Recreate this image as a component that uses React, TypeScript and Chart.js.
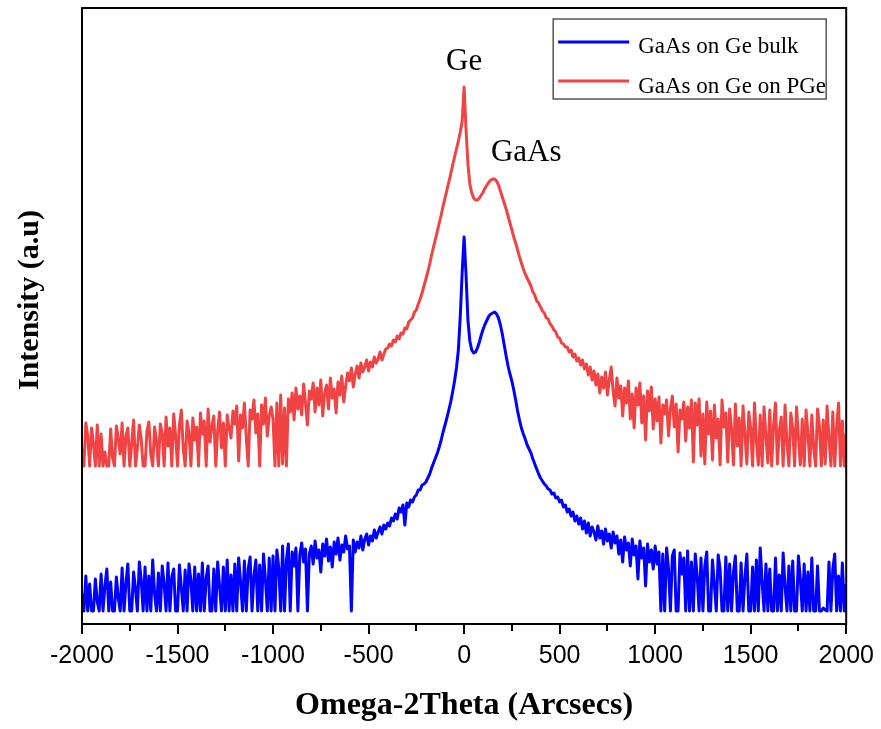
import React, { useEffect, useRef } from 'react';
import { Chart, registerables } from 'chart.js';

Chart.register(...registerables);

// Sampling grid of the scan (arcsec)
const X_START = -2000;
const X_STEP = 10;
const X_MIN = -2000;
const X_MAX = 2000;
const X_TICK_STEP = 500;

const SERIES_LABELS = ['GaAs on Ge bulk', 'GaAs on Ge on PGe'];
const SERIES_COLORS = ['#0000FF', '#F04444'];

const X_TITLE = 'Omega-2Theta (Arcsecs)';
const Y_TITLE = 'Intensity (a.u)';

// Intensity (arbitrary units, offset curves), one value per 10 arcsec from -2000 to 2000
const BULK = [
  30, 13, 48, 13, 40, 13, 13, 45, 22, 13, 50, 13, 38, 55, 13, 42, 13, 13, 47, 26,
  13, 56, 13, 41, 60, 13, 13, 52, 35, 13, 62, 44, 13, 57, 13, 48, 13, 64, 30, 13,
  51, 13, 58, 40, 13, 61, 13, 47, 55, 13, 13, 59, 36, 13, 54, 13, 60, 44, 13, 57,
  13, 50, 13, 61, 13, 46, 58, 13, 13, 55, 13, 62, 38, 13, 57, 13, 64, 13, 49, 13,
  60, 13, 66, 42, 13, 63, 13, 55, 67, 13, 48, 64, 13, 59, 13, 70, 45, 13, 66, 13,
  68, 13, 74, 56, 13, 78, 13, 64, 80, 13, 72, 58, 76, 13, 69, 81, 62, 75, 13, 70,
  78, 60, 83, 66, 74, 52, 80, 68, 85, 63, 77, 57, 82, 70, 86, 64, 79, 72, 88, 75,
  78, 13, 84, 72, 82, 76, 88, 74, 85, 90, 79, 88, 83, 94, 86, 92, 97, 90, 99, 95,
  101, 98, 106, 103, 110, 105, 116, 112, 119, 99, 121, 117, 124, 122, 127, 129, 134, 134, 139, 140,
  142, 146, 150, 156, 161, 166, 171, 177, 184, 192, 199, 206, 214, 222, 232, 243, 256, 274, 308, 352,
  387, 350, 304, 283, 274, 271, 272, 276, 282, 289, 295, 300, 304, 308, 310, 311, 312, 310, 306, 299,
  290, 279, 268, 258, 250, 243, 234, 224, 213, 204, 196, 190, 185, 179, 175, 171, 165, 160, 155, 150,
  146, 143, 140, 138, 135, 134, 130, 131, 126, 127, 122, 124, 117, 119, 112, 115, 108, 112, 103, 108,
  100, 106, 95, 103, 91, 101, 88, 97, 92, 84, 98, 86, 93, 80, 95, 83, 90, 76, 92, 81,
  88, 70, 84, 62, 87, 74, 81, 58, 85, 69, 78, 45, 83, 66, 76, 38, 80, 62, 74, 55,
  78, 60, 72, 13, 70, 13, 76, 55, 13, 68, 74, 13, 13, 71, 50, 66, 13, 73, 13, 62,
  13, 70, 48, 13, 66, 13, 58, 72, 13, 13, 64, 40, 13, 69, 55, 13, 13, 67, 13, 60,
  13, 52, 68, 13, 13, 61, 13, 47, 70, 13, 13, 57, 13, 64, 13, 76, 42, 13, 60, 13,
  55, 13, 13, 66, 13, 49, 13, 71, 38, 13, 58, 13, 63, 13, 13, 68, 45, 13, 60, 13,
  52, 13, 66, 13, 13, 58, 13, 13, 16, 14, 13, 62, 13, 55, 70, 13, 48, 13, 61, 13,
  40,
];

const PGE = [
  175, 158, 201, 188, 158, 196, 180, 158, 199, 158, 190, 158, 172, 158, 158, 195, 166, 158, 198, 185,
  170, 201, 158, 188, 196, 158, 180, 204, 158, 176, 199, 185, 158, 158, 193, 202, 170, 158, 197, 183,
  158, 200, 191, 158, 207, 178, 196, 158, 210, 188, 158, 199, 214, 175, 158, 203, 192, 158, 206, 184,
  197, 158, 211, 190, 203, 158, 215, 182, 198, 208, 158, 193, 212, 176, 201, 158, 209, 196, 186, 213,
  200, 218, 163, 209, 196, 221, 186, 158, 214, 205, 224, 191, 210, 158, 219, 200, 226, 188, 208, 217,
  205, 158, 221, 158, 229, 160, 216, 158, 225, 212, 231, 204, 236, 215, 228, 209, 240, 221, 199, 233,
  225, 241, 212, 236, 219, 244, 208, 231, 239, 215, 246, 226, 235, 211, 242, 229, 248, 222, 238, 251,
  243, 256, 237, 250, 258, 246, 261, 252, 257, 264, 253, 262, 257, 267, 261, 265, 272, 264, 270, 275,
  276, 280, 278, 284, 282, 288, 285, 291, 290, 296, 295, 302, 304, 306, 312, 314, 320, 325, 331, 338,
  345, 352, 360, 369, 377, 385, 393, 401, 409, 418, 426, 434, 442, 450, 459, 467, 475, 483, 492, 503,
  537, 495, 460, 440, 431, 426, 424, 424, 426, 429, 432, 436, 439, 442, 444, 445, 445, 443, 439, 433,
  427, 421, 415, 408, 401, 394, 387, 381, 374, 367, 361, 355, 350, 346, 342, 338, 332, 329, 323, 321,
  317, 313, 311, 306, 305, 300, 298, 294, 292, 287, 286, 281, 280, 277, 277, 272, 274, 267, 270, 263,
  266, 259, 264, 255, 260, 249, 257, 244, 253, 239, 250, 231, 247, 236, 252, 229, 244, 257, 233, 218,
  246, 226, 238, 208, 236, 221, 243, 205, 230, 196, 236, 219, 241, 201, 228, 184, 233, 213, 237, 195,
  225, 203, 227, 181, 219, 210, 224, 188, 215, 228, 197, 220, 172, 214, 205, 222, 183, 217, 196, 224,
  162, 221, 199, 225, 168, 210, 160, 222, 190, 213, 164, 219, 186, 205, 159, 224, 197, 211, 162, 215,
  195, 159, 220, 178, 206, 158, 218, 190, 160, 212, 196, 158, 221, 183, 159, 209, 158, 217, 188, 161,
  214, 158, 199, 221, 160, 193, 207, 158, 219, 181, 158, 211, 196, 158, 217, 187, 159, 205, 158, 214,
  190, 158, 209, 176, 158, 215, 198, 158, 204, 160, 218, 185, 158, 212, 158, 197, 221, 158, 203, 158,
  190,
];

const Y_MIN = 0;
const Y_MAX = 616;

// Peak labels in data coordinates (x arcsec, y intensity at text baseline)
const ANNOTATIONS = [
  { text: 'Ge', x: 0, y: 554 },
  { text: 'GaAs', x: 325, y: 463 },
];

const SERIF = '"Liberation Serif", "Times New Roman", serif';
const SANS = '"Liberation Sans", Arial, sans-serif';

const toPoints = (vals: number[]) => vals.map((v, i) => ({ x: X_START + i * X_STEP, y: v }));

const decorPlugin = {
  id: 'decor',
  afterDraw(chart: any) {
    const { ctx, chartArea: a, scales } = chart;
    const xs = scales.x;
    const ys = scales.y;
    ctx.save();

    // frame
    ctx.strokeStyle = '#000';
    ctx.lineWidth = 2;
    ctx.strokeRect(a.left, a.top, a.right - a.left, a.bottom - a.top);

    // minor ticks between major ticks
    const tv = xs.ticks.map((t: any) => t.value);
    ctx.beginPath();
    for (let i = 0; i < tv.length - 1; i++) {
      const px = Math.round(xs.getPixelForValue((tv[i] + tv[i + 1]) / 2));
      ctx.moveTo(px, a.bottom);
      ctx.lineTo(px, a.bottom + 7);
    }
    ctx.stroke();

    // peak annotations
    ctx.fillStyle = '#000';
    ctx.font = `31px ${SERIF}`;
    ctx.textAlign = 'center';
    ctx.textBaseline = 'alphabetic';
    ANNOTATIONS.forEach((an) => {
      ctx.fillText(an.text, xs.getPixelForValue(an.x), ys.getPixelForValue(an.y));
    });

    // y title
    ctx.save();
    ctx.translate(30, 300);
    ctx.rotate(-Math.PI / 2);
    ctx.font = `bold 30px ${SERIF}`;
    ctx.textAlign = 'center';
    ctx.textBaseline = 'middle';
    ctx.fillText(Y_TITLE, 0, 0);
    ctx.restore();

    // legend box
    const lw = 273;
    const lh = 80;
    const lx = a.right - 20 - lw;
    const ly = a.top + 11;
    ctx.fillStyle = '#fff';
    ctx.fillRect(lx, ly, lw, lh);
    ctx.strokeStyle = '#555';
    ctx.lineWidth = 1.5;
    ctx.strokeRect(lx, ly, lw, lh);
    const rows = [
      { lineY: ly + 23, textY: ly + 34 },
      { lineY: ly + 62, textY: ly + 74 },
    ];
    chart.data.datasets.forEach((ds: any, i: number) => {
      const r = rows[i];
      ctx.strokeStyle = ds.borderColor;
      ctx.lineWidth = 3;
      ctx.beginPath();
      ctx.moveTo(lx + 5, r.lineY);
      ctx.lineTo(lx + 76, r.lineY);
      ctx.stroke();
      ctx.fillStyle = '#000';
      ctx.font = `23px ${SERIF}`;
      ctx.textAlign = 'left';
      ctx.textBaseline = 'alphabetic';
      ctx.fillText(ds.label, lx + 85, r.textY);
    });

    ctx.restore();
  },
};

export default function App() {
  const canvasRef = useRef<HTMLCanvasElement | null>(null);

  useEffect(() => {
    const canvas = canvasRef.current;
    if (!canvas) return;
    const chart = new Chart(canvas, {
      type: 'line',
      data: {
        datasets: [
          {
            label: SERIES_LABELS[0],
            data: toPoints(BULK),
            borderColor: SERIES_COLORS[0],
            backgroundColor: SERIES_COLORS[0],
            borderWidth: 3,
            pointRadius: 0,
            tension: 0,
            borderJoinStyle: 'round',
            fill: false,
          },
          {
            label: SERIES_LABELS[1],
            data: toPoints(PGE),
            borderColor: SERIES_COLORS[1],
            backgroundColor: SERIES_COLORS[1],
            borderWidth: 3,
            pointRadius: 0,
            tension: 0,
            borderJoinStyle: 'round',
            fill: false,
          },
        ],
      },
      options: {
        animation: false,
        responsive: false,
        devicePixelRatio: 1,
        layout: { padding: { left: 82, right: 34, top: 8, bottom: 0 } },
        plugins: {
          legend: { display: false },
          tooltip: { enabled: false },
        },
        scales: {
          x: {
            type: 'linear',
            min: X_MIN,
            max: X_MAX,
            ticks: {
              stepSize: X_TICK_STEP,
              color: '#000',
              font: { family: SANS, size: 25 },
              padding: 7,
              maxRotation: 0,
              autoSkip: false,
              callback: (v: any) => String(v),
            },
            grid: {
              drawOnChartArea: false,
              drawTicks: true,
              tickLength: 10,
              color: '#000',
              lineWidth: 2,
            },
            border: { display: false },
            title: {
              display: true,
              text: X_TITLE,
              color: '#000',
              font: { family: SERIF, size: 32, weight: 'bold' },
              padding: { top: 0, bottom: 4 },
            },
            afterFit: (s: any) => {
              s.height = 105;
            },
          },
          y: {
            type: 'linear',
            min: Y_MIN,
            max: Y_MAX,
            display: false,
          },
        },
      } as any,
      plugins: [decorPlugin],
    });
    return () => chart.destroy();
  }, []);

  return (
    <div style={{ position: 'fixed', left: 0, top: 0, width: 881, height: 729, background: '#fff' }}>
      <canvas ref={canvasRef} width={881} height={729} style={{ width: 881, height: 729, display: 'block' }} />
    </div>
  );
}
